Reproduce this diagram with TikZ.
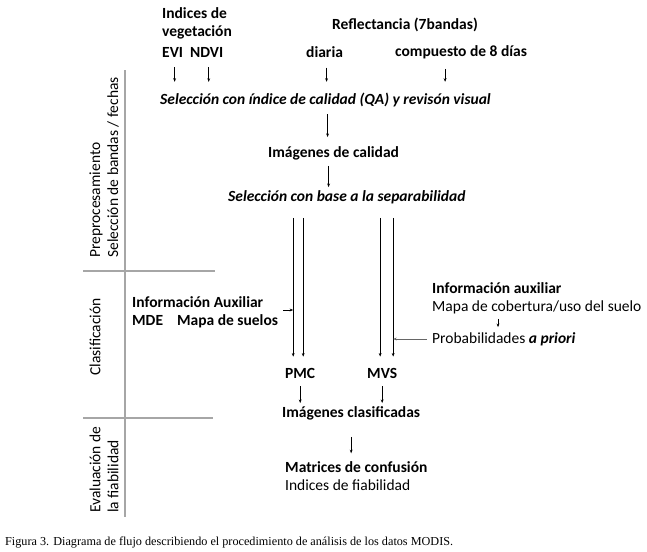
\documentclass[tikz,border=0pt]{standalone}
\usepackage{fontspec}
\setmainfont{Carlito}
\newfontfamily\capfont{Liberation Serif}
\usetikzlibrary{arrows.meta,positioning}

\tikzset{
  txt/.style={inner sep=0pt, anchor=west, align=left, font=\fontsize{15.5}{18}\selectfont},
  bld/.style={txt, font=\fontsize{15.5}{18}\selectfont\bfseries},
  bit/.style={txt, font=\fontsize{15.5}{18}\selectfont\bfseries\itshape},
  arr/.style={-{Stealth[length=3.6pt,width=2.8pt]}, line width=0.75pt},
  frame/.style={draw=black!35, line width=1.8pt},
}

\begin{document}
\begin{tikzpicture}[x=1pt,y=-1pt]
\useasboundingbox (0,0) rectangle (647,551);
% stage frame
\draw[frame] (125,70) -- (125,517);
\draw[frame] (83,271) -- (215,271);
\draw[frame] (83,418) -- (213,418);
% stage labels
\node[txt, rotate=90] (stpre) at (104,258) {Preprocesamiento\\Selección de bandas / fechas};
\node[txt, rotate=90, anchor=center] (stcla) at (95,337) {Clasificación};
\node[txt, rotate=90] (steva) at (104,513) {Evaluación de\\la fiabilidad};
% input data
\node[bld] (indices) at (162,23) {Indices de\\vegetación};
\node[bld] (refl) at (332,25) {Reflectancia (7bandas)};
\node[bld] (evi) at (162,52) {EVI};
\node[bld] (ndvi) at (190,52) {NDVI};
\node[bld] (diaria) at (306,52) {diaria};
\node[bld] (comp) at (395,52) {compuesto de 8 días};
% processing steps
\node[bit] (selqa) at (160,100) {Selección con índice de calidad (QA) y revisón visual};
\node[bld] (imcal) at (268,153) {Imágenes de calidad};
\node[bit] (selsep) at (228,197) {Selección con base a la separabilidad};
\node[bld] (auxpmc) at (132,312) {Información Auxiliar\\MDE\hspace{14pt}Mapa de suelos};
\node[txt] (auxmvs) at (432,298) {\textbf{Información auxiliar}\\Mapa de cobertura/uso del suelo};
\node[txt] (prob) at (432,339) {Probabilidades \textbf{\textit{a priori}}};
\node[bld] (pmc) at (285,373) {PMC};
\node[bld] (mvs) at (367,373) {MVS};
\node[bld] (imcla) at (282,413) {Imágenes clasificadas};
\node[txt] (matr) at (285,476) {\textbf{Matrices de confusión}\\Indices de fiabilidad};
% caption
\node[txt, font=\capfont\fontsize{12.2}{14}\selectfont] (caption) at (5,543) {Figura 3. Diagrama de flujo describiendo el procedimiento de análisis de los datos MODIS.};

% arrows into the quality selection
\foreach \n in {evi,ndvi,diaria}
  \draw[arr, shorten <=10pt, shorten >=11pt] ([xshift=2pt]\n.south) -- ([xshift=2pt]\n.south |- selqa.north);
\coordinate (cq) at ([xshift=-16pt]comp.south);
\draw[arr, shorten <=10pt, shorten >=11pt] (cq) -- (cq |- selqa.north);
\draw[arr, shorten <=7pt, shorten >=9pt] ([xshift=-6pt]imcal.north |- selqa.south) -- ([xshift=-6pt]imcal.north);
\draw[arr, shorten <=6pt, shorten >=3pt] ([xshift=-5pt]imcal.south) -- ([xshift=-5pt]imcal.south |- selsep.north);
% long lines to the classifiers
\coordinate (pa) at ([xshift=-7pt]pmc.north);
\coordinate (pb) at ([xshift=3pt]pmc.north);
\coordinate (ma) at ([xshift=-2pt]mvs.north);
\coordinate (mb) at ([xshift=11pt]mvs.north);
\foreach \c in {pa,pb,ma,mb}
  \draw[arr, shorten <=14pt, shorten >=11pt] (\c |- selsep.south) -- (\c);
% auxiliary information
\draw[arr, shorten <=5pt] ([yshift=2pt]auxpmc.east) -- ([yshift=2pt]auxpmc.east -| pa);
\coordinate (aq) at ([xshift=66pt]auxmvs.south west);
\draw[arr, shorten <=5pt, shorten >=5pt] (aq) -- (aq |- prob.north);
\draw[arr, draw=black!60, shorten <=5pt] (prob.west) -- (prob.west -| mb);
% results
\draw[arr, shorten <=8pt, shorten >=3pt] (pmc.south) -- (pmc.south |- imcla.north);
\draw[arr, shorten <=8pt, shorten >=3pt] (mvs.south) -- (mvs.south |- imcla.north);
\draw[arr, shorten <=17pt, shorten >=8pt] (imcla.south) -- (imcla.south |- matr.north);
\end{tikzpicture}
\end{document}
